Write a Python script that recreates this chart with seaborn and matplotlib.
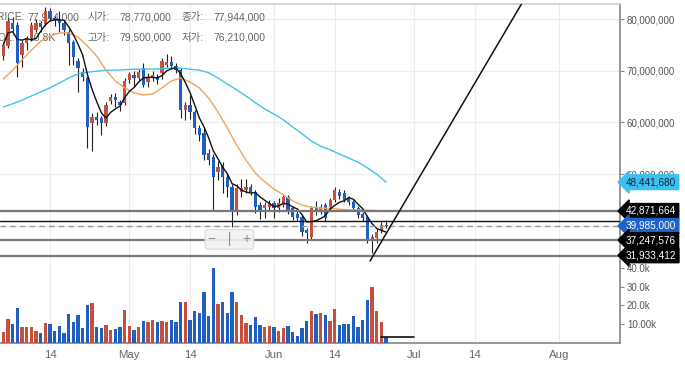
import matplotlib
matplotlib.use("Agg")
import matplotlib.pyplot as plt
import matplotlib.ticker as mticker
import numpy as np
import pandas as pd
import seaborn as sns

# daily candles (KRW, millions), Apr 4 .. Jun 25 2021
days = pd.date_range("2021-04-04", periods=83, freq="D")
opens = [72.8, 74.8, 79.2, 78.8, 73.0, 75.4, 76.3, 77.9, 79.2, 79.0,
         81.5, 80.2, 80.0, 79.3, 77.5, 75.5, 71.8, 69.8, 68.6, 59.9,
         61.0, 60.8, 59.9, 64.2, 65.0, 63.9, 63.8, 68.2, 69.2, 68.6,
         70.5, 67.8, 68.6, 68.8, 69.6, 71.1, 71.7, 70.9, 70.1, 62.4,
         63.4, 62.0, 58.9, 58.0, 54.1, 53.3, 50.4, 51.8, 49.4, 47.5,
         43.1, 46.5, 47.0, 47.5, 46.5, 44.0, 43.4, 43.6, 44.4, 43.4,
         44.0, 45.6, 43.4, 42.3, 41.7, 39.2, 37.8, 43.4, 42.7, 44.0,
         43.6, 45.0, 46.5, 46.3, 45.4, 44.6, 43.4, 42.3, 41.7, 37.2,
         37.6, 39.2, 40.2]
highs = [75.6, 80.2, 80.4, 79.4, 75.9, 76.8, 79.4, 80.0, 79.6, 82.3,
         82.2, 80.6, 81.5, 79.8, 78.0, 76.0, 72.5, 70.5, 69.0, 61.8,
         62.0, 61.2, 64.0, 65.5, 65.7, 64.4, 68.5, 69.8, 70.0, 70.3,
         71.5, 69.5, 70.0, 69.4, 72.4, 73.3, 72.8, 71.5, 70.6, 64.0,
         65.3, 62.4, 59.5, 58.9, 54.8, 53.8, 52.5, 52.4, 50.2, 48.0,
         48.0, 49.0, 49.0, 48.0, 47.0, 44.6, 44.6, 45.0, 44.8, 45.4,
         46.0, 46.0, 43.8, 42.8, 42.2, 39.6, 43.8, 44.8, 44.2, 44.4,
         45.4, 47.5, 47.2, 47.0, 45.8, 45.0, 43.8, 42.6, 42.0, 38.5,
         39.4, 40.8, 41.2]
lows = [72.1, 74.4, 77.7, 68.8, 70.7, 74.0, 75.8, 77.5, 77.5, 78.6,
        79.6, 78.6, 77.5, 77.0, 71.1, 71.2, 65.9, 68.0, 55.0, 54.5,
        59.5, 57.6, 59.3, 63.6, 63.0, 62.2, 63.3, 67.6, 66.8, 68.0,
        66.8, 66.8, 68.0, 67.4, 68.4, 70.7, 70.3, 69.5, 60.9, 60.5,
        60.7, 57.8, 56.5, 52.7, 51.8, 43.1, 48.9, 46.3, 45.5, 39.8,
        42.0, 45.5, 46.3, 46.0, 42.5, 41.4, 41.5, 43.0, 41.5, 42.6,
        43.6, 42.3, 41.2, 41.0, 38.0, 36.7, 37.2, 42.0, 42.2, 41.0,
        43.0, 44.6, 45.2, 44.6, 44.0, 43.0, 41.6, 40.9, 36.7, 34.7,
        36.6, 38.6, 39.5]
closes = [75.0, 79.6, 78.1, 71.5, 75.4, 76.3, 78.8, 79.2, 78.4, 81.6,
          80.2, 79.8, 79.2, 77.9, 75.4, 72.6, 70.6, 68.7, 59.2, 61.1,
          60.5, 59.9, 63.4, 64.9, 64.3, 63.4, 68.0, 69.4, 68.6, 69.7,
          67.2, 68.8, 69.2, 68.2, 71.9, 71.7, 70.9, 70.1, 62.4, 63.4,
          62.0, 58.9, 57.6, 53.7, 52.7, 49.4, 51.4, 49.4, 47.5, 43.1,
          47.3, 47.3, 47.5, 46.5, 43.6, 43.1, 44.0, 44.4, 43.4, 44.4,
          45.6, 43.1, 41.7, 41.5, 38.8, 38.6, 43.4, 42.7, 43.6, 41.5,
          45.0, 46.9, 45.8, 45.0, 44.6, 43.4, 42.1, 41.5, 37.2, 37.8,
          38.8, 40.2, 39.985]
# volume in thousands
volume_k = [5.9, 12.7, 10.2, 18.6, 8.4, 8.4, 8.4, 6.4, 5.4, 10.7,
            10.0, 6.4, 8.9, 5.4, 15.4, 11.3, 14.8, 8.0, 20.2, 21.3,
            8.4, 8.0, 9.5, 7.0, 7.3, 8.4, 17.5, 8.9, 7.0, 8.6,
            11.6, 11.3, 12.1, 11.1, 11.6, 11.3, 12.1, 11.3, 21.8, 21.8,
            12.1, 17.0, 15.9, 27.1, 14.3, 40.0, 20.9, 21.8, 15.9, 27.1,
            21.8, 14.8, 10.7, 9.5, 13.8, 9.5, 8.4, 8.9, 8.4, 6.3,
            7.9, 8.9, 5.7, 3.6, 7.9, 11.6, 17.0, 15.4, 15.9, 14.8,
            11.6, 18.0, 9.5, 10.0, 10.0, 14.3, 8.4, 12.1, 22.9, 29.8,
            17.0, 11.1, 3.2]

# moving averages read every second day
ma_days = days[::2]
ma_orange = [68.4, 70.1, 72.1, 74.0, 75.7, 76.7, 77.3, 77.3, 76.5, 74.8,
             72.8, 70.1, 68.0, 66.7, 65.7, 65.3, 65.5, 66.7, 68.0, 68.6,
             67.8, 66.7, 64.7, 62.0, 58.9, 55.6, 52.7, 50.2, 48.5, 47.1,
             46.0, 44.8, 44.0, 43.6, 43.4, 43.4, 43.2, 43.1, 43.1, 43.0,
             42.95, 42.87]
ma_cyan = [63.0, 63.6, 64.3, 65.1, 65.9, 66.7, 67.6, 68.6, 69.4, 69.7,
           69.9, 70.1, 70.1, 70.2, 70.3, 70.3, 70.3, 70.4, 70.5, 70.5,
           70.3, 70.1, 69.6, 68.6, 67.4, 66.3, 65.1, 63.8, 62.6, 61.6,
           60.5, 59.1, 57.8, 56.4, 55.4, 54.7, 53.9, 53.1, 52.3, 51.2,
           50.0, 48.44]

# drawn horizontal levels and right-hand tags
levels = [42871664, 40930000, 39985000, 37247576, 31933412]
level_styles = [("#777777", 1.6, "-"), ("#111111", 1.0, "-"), ("#9a9a9a", 1.0, (0, (4, 3))),
                ("#7a7a7a", 1.6, "-"), ("#7a7a7a", 1.6, "-")]
tags = [48441680, 42871664, 39985000, 37247576, 31933412]
tag_colors = [("#3fbef0", "#0b2a3a"), ("#000000", "white"), ("#1f63c6", "white"),
              ("#000000", "white"), ("#000000", "white")]

# drawn trend line and volume marker line
trend_days = pd.to_datetime(["2021-06-21 13:40", "2021-07-24 03:20"])
trend_prices = [33.2, 83.1]
vol_line_days = pd.to_datetime(["2021-06-23 20:00", "2021-07-01 00:00"])
vol_line_k = [2.9, 2.9]

tick_days = pd.to_datetime(["2021-04-14", "2021-05-01", "2021-05-14", "2021-06-01",
                            "2021-06-14", "2021-07-01", "2021-07-14", "2021-08-01"])
tick_names = ["14", "May", "14", "Jun", "14", "Jul", "14", "Aug"]

RED = "#c6503d"
BLUE = "#1f5fbf"

sns.set_theme(style="white")
plt.rcParams["font.family"] = ["Liberation Sans", "Noto Sans CJK KR"]

df = pd.DataFrame({"day": days, "open": np.array(opens) * 1e6, "high": np.array(highs) * 1e6,
                   "low": np.array(lows) * 1e6, "close": np.array(closes) * 1e6,
                   "vol": np.array(volume_k) * 1e3})
df["up"] = df["close"] >= df["open"]
df["ma5"] = df["close"].rolling(5, min_periods=1).mean()
ma = pd.DataFrame({"day": ma_days, "orange": np.array(ma_orange) * 1e6,
                   "cyan": np.array(ma_cyan) * 1e6})

fig = plt.figure(figsize=(6.85, 3.72), dpi=100)
ax = fig.add_axes([0, 0.2957, 0.9051, 0.6935])
axv = fig.add_axes([0, 0.0788, 0.9051, 0.2169], sharex=ax)

x_lo, x_hi = pd.Timestamp("2021-04-03 06:50"), pd.Timestamp("2021-08-14 03:00")
p_lo, p_hi = 33.0e6, 82.9e6

# candles
cols = np.where(df["up"], RED, BLUE)
ax.vlines(df["day"], df["low"], df["high"], color="#222222", lw=0.8, zorder=2)
ax.bar(df["day"], df["close"] - df["open"], bottom=df["open"], width=0.66,
       color=cols, edgecolor="none", linewidth=0, zorder=3)

# moving averages
sns.lineplot(data=ma, x="day", y="cyan", ax=ax, color="#45c1ea", lw=1.0, zorder=4)
sns.lineplot(data=ma, x="day", y="orange", ax=ax, color="#f2a35a", lw=1.0, zorder=4)
sns.lineplot(data=df, x="day", y="ma5", ax=ax, color="#111111", lw=1.0, zorder=5)

# horizontal levels (clamped into view like the chart app)
for lv, (c, w, ls) in zip(levels, level_styles):
    shown = max(lv, p_lo + 1.15e6)
    ax.axhline(shown, color=c, lw=w, ls=ls, zorder=6)

ax.plot(trend_days, np.array(trend_prices) * 1e6, color="#111111", lw=1.1, zorder=7)

ax.set_xlim(x_lo, x_hi)
ax.set_ylim(p_lo, p_hi)
ax.yaxis.tick_right()
ax.set_yticks([40e6, 50e6, 60e6, 70e6, 80e6])
ax.yaxis.set_major_formatter(mticker.FuncFormatter(lambda v, p: f"{v:,.0f}"))
ax.tick_params(axis="y", direction="out", length=3, width=0.8, color="#888888",
               labelsize=7, labelcolor="#555555", pad=2)
ax.set_xticks(tick_days)
ax.tick_params(axis="x", length=0, labelbottom=False)
ax.grid(True, color="#ececec", lw=0.8)
ax.set_axisbelow(True)
ax.set_xlabel("")
ax.set_ylabel("")
for s in ["left", "bottom"]:
    ax.spines[s].set_visible(False)
ax.spines["right"].set_color("#8a8a8a")
ax.spines["top"].set_color("#d0d0d0")

# tags on the right
for v, (fc, tc) in zip(tags, tag_colors):
    shown = max(v, p_lo + 1.3e6)
    ax.annotate(f"{v:,}", xy=(1.0, shown), xycoords=ax.get_yaxis_transform(),
                xytext=(4.4, 0), textcoords="offset points", ha="left", va="center",
                fontsize=7.2, color=tc, annotation_clip=False, zorder=10,
                bbox=dict(boxstyle="larrow,pad=0.24", fc=fc, ec=fc))

# zoom widget
ax.text(0.37, 0.088, "\u2212   |   +", transform=ax.transAxes, ha="center", va="center",
        fontsize=10, color="#8c8c8c", zorder=8,
        bbox=dict(boxstyle="round,pad=0.2", fc="#f1f1f1", ec="#dcdcdc", alpha=0.9))

# header read-out
hdr = [(25, 17, "PRICE:", "right"), (27, 17, "77,944,000", "left"),
       (88, 17, "시가:", "left"), (119, 17, "78,770,000", "left"),
       (182, 17, "종가:", "left"), (213, 17, "77,944,000", "left"),
       (16, 38, "VOL:", "right"), (28, 38, "10.8K", "left"),
       (88, 38, "고가:", "left"), (119, 38, "79,500,000", "left"),
       (182, 38, "저가:", "left"), (213, 38, "76,210,000", "left")]
for px, py, t, ha in hdr:
    ax.text(px / 685, 1 - py / 372, t, transform=fig.transFigure, ha=ha, va="center",
            fontsize=7.5, color="#666666", zorder=1.5)

# volume
axv.bar(df["day"], df["vol"], width=0.76, color=cols, edgecolor="none", linewidth=0, zorder=3)
axv.plot(vol_line_days, np.array(vol_line_k) * 1e3, color="#111111", lw=1.2, zorder=4)
axv.set_ylim(0, 43.2e3)
axv.yaxis.tick_right()
axv.set_yticks([10e3, 20e3, 30e3, 40e3])
axv.set_yticklabels(["10.00k", "20.0k", "30.0k", "40.0k"])
axv.tick_params(axis="y", direction="out", length=3, width=0.8, color="#888888",
                labelsize=7, labelcolor="#555555", pad=2)
axv.set_xticks(tick_days)
axv.set_xticklabels(tick_names)
axv.tick_params(axis="x", length=0, labelsize=8.2, labelcolor="#666666", pad=5)
axv.grid(True, axis="x", color="#ececec", lw=0.8)
axv.set_axisbelow(True)
for s in ["left", "top"]:
    axv.spines[s].set_visible(False)
axv.spines["right"].set_color("#8a8a8a")
axv.spines["bottom"].set_color("#8a8a8a")
axv.set_xlim(x_lo, x_hi)

fig.savefig("out.png", dpi=100)
